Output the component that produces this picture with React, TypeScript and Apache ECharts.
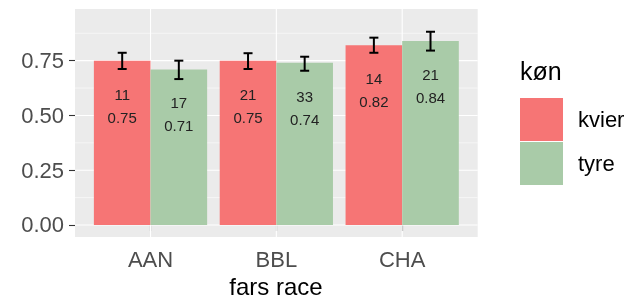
import React, { useEffect, useRef } from "react";
import * as echarts from "echarts";

const categories = ["AAN", "BBL", "CHA"];
const sexes = ["kvier", "tyre"];
const kvierMean = [0.75, 0.75, 0.82];
const tyreMean = [0.71, 0.74, 0.84];
const kvierN = [11, 21, 14];
const tyreN = [17, 33, 21];
const kvierLow = [0.712, 0.712, 0.786];
const kvierHigh = [0.786, 0.784, 0.855];
const tyreLow = [0.666, 0.704, 0.796];
const tyreHigh = [0.75, 0.768, 0.882];
const yTicks = [0, 0.25, 0.5, 0.75];
const yMinorGrid = [0.125, 0.375, 0.625, 0.875];
const xTicks = [1, 2, 3];

const COLORS = ["#F67575", "#A9CBA8"];
const FONT = "Liberation Sans, Arial, sans-serif";

export default function App() {
  const ref = useRef<HTMLDivElement>(null);
  useEffect(() => {
    if (!ref.current) return;
    const chart = echarts.init(ref.current, undefined, { renderer: "svg" });
    const X_MIN = 0.4, X_MAX = 3.6;
    const Y_MIN = -0.0548, Y_MAX = 0.9858;
    const half = 0.225;

    const mk = (mean: number[], low: number[], high: number[], n: number[]) =>
      categories.map((_, i) => [i + 1, mean[i], low[i], high[i], n[i]]);

    const barSeries = (name: string, idx: number, data: number[][]) => ({
      type: "custom",
      name,
      z: 3,
      itemStyle: { color: COLORS[idx] },
      encode: { x: 0, y: 1 },
      data,
      renderItem: (params: any, api: any) => {
        const xi = api.value(0);
        const mean = api.value(1);
        const lo = api.value(2);
        const hi = api.value(3);
        const n = api.value(4);
        const off = idx === 0 ? -half : half;
        const c = xi + off;
        const tl = api.coord([c - half, mean]);
        const br = api.coord([c + half, 0]);
        const top = api.coord([c, hi]);
        const bot = api.coord([c, lo]);
        const cap = 4.5;
        const ls = { stroke: "#000", lineWidth: 2 };
        return {
          type: "group",
          children: [
            { type: "rect", shape: { x: tl[0], y: tl[1], width: br[0] - tl[0], height: br[1] - tl[1] }, style: { fill: COLORS[idx] } },
            { type: "line", shape: { x1: top[0], y1: top[1], x2: bot[0], y2: bot[1] }, style: ls },
            { type: "line", shape: { x1: top[0] - cap, y1: top[1], x2: top[0] + cap, y2: top[1] }, style: ls },
            { type: "line", shape: { x1: bot[0] - cap, y1: bot[1], x2: bot[0] + cap, y2: bot[1] }, style: ls },
            {
              type: "text",
              x: top[0],
              y: tl[1] + 45,
              style: {
                text: `${n}\n${mean.toFixed(2)}`,
                align: "center",
                verticalAlign: "middle",
                fill: "#222",
                font: `15px ${FONT}`,
                lineHeight: 23,
              },
            },
          ],
        };
      },
    });

    const gridData: any[] = [
      ...yTicks.map((v) => [0, v, 1.1]),
      ...yMinorGrid.map((v) => [0, v, 0.55]),
      ...xTicks.map((v) => [1, v, 1.1]),
    ];

    const option: any = {
      animation: false,
      grid: { left: 75, top: 9, width: 402.7, height: 228, show: true, backgroundColor: "#EBEBEB", borderWidth: 0 },
      xAxis: {
        type: "value",
        min: X_MIN,
        max: X_MAX,
        splitLine: { show: false },
        axisLine: { show: false },
        axisTick: { show: true, customValues: xTicks, length: 6, lineStyle: { color: "#333", width: 1.1 } },
        axisLabel: {
          customValues: xTicks,
          formatter: (v: number) => categories[Math.round(v) - 1],
          color: "#4D4D4D",
          fontSize: 22,
          fontFamily: FONT,
          margin: 11,
        },
      },
      yAxis: {
        type: "value",
        min: Y_MIN,
        max: Y_MAX,
        splitLine: { show: false },
        axisLine: { show: false },
        axisTick: { show: true, customValues: yTicks, length: 6, lineStyle: { color: "#333", width: 1.1 } },
        axisLabel: {
          customValues: yTicks,
          formatter: (v: number) => v.toFixed(2),
          color: "#4D4D4D",
          fontSize: 22,
          fontFamily: FONT,
          margin: 11,
        },
      },
      legend: {
        orient: "vertical",
        left: 520,
        top: 98,
        padding: 0,
        itemWidth: 43,
        itemHeight: 43,
        itemGap: 1,
        icon: "rect",
        data: sexes,
        textStyle: { fontSize: 22, fontFamily: FONT, color: "#000", padding: [0, 0, 0, 10] },
      },
      graphic: [
        { type: "text", left: 520, top: 58, style: { text: "køn", font: `25px ${FONT}`, fill: "#000" } },
        { type: "text", x: 276, y: 286, style: { text: "fars race", font: `24px ${FONT}`, fill: "#000", align: "center", verticalAlign: "middle" } },
      ],
      series: [
        {
          type: "custom",
          name: "grid",
          z: 1,
          silent: true,
          encode: { x: -1, y: -1 },
          data: gridData,
          renderItem: (params: any, api: any) => {
            const dir = api.value(0);
            const v = api.value(1);
            const w = api.value(2);
            let p1, p2;
            if (dir === 0) {
              p1 = api.coord([X_MIN, v]);
              p2 = api.coord([X_MAX, v]);
            } else {
              p1 = api.coord([v, Y_MIN]);
              p2 = api.coord([v, Y_MAX]);
            }
            return { type: "line", shape: { x1: p1[0], y1: p1[1], x2: p2[0], y2: p2[1] }, style: { stroke: "#FFFFFF", lineWidth: w } };
          },
        },
        barSeries("kvier", 0, mk(kvierMean, kvierLow, kvierHigh, kvierN)),
        barSeries("tyre", 1, mk(tyreMean, tyreLow, tyreHigh, tyreN)),
      ],
    };
    chart.setOption(option);
    return () => chart.dispose();
  }, []);
  return <div ref={ref} style={{ position: "fixed", left: 0, top: 0, width: 640, height: 300 }} />;
}
